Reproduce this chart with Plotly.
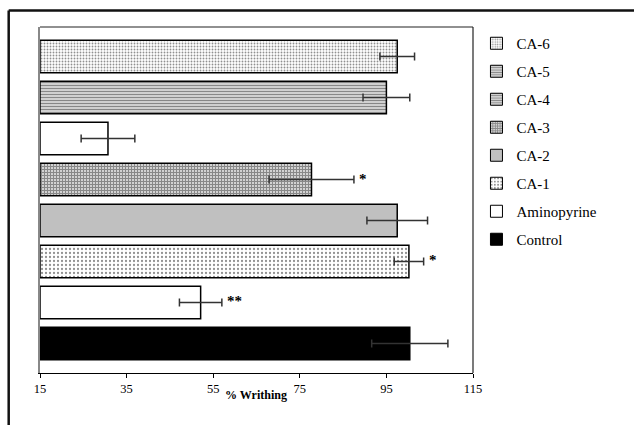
import plotly.graph_objects as go

# Data (bottom to top)
categories = ["Control", "Aminopyrine", "CA-1", "CA-2", "CA-3", "CA-4", "CA-5", "CA-6"]
values = [100.4, 52.1, 100.2, 97.5, 77.7, 30.7, 95.0, 97.5]
errors = [8.8, 4.9, 3.4, 7.0, 9.8, 6.2, 5.4, 4.0]
stars = ["", "**", "*", "", "*", "", "", ""]
x_ticks = [15, 35, 55, 75, 95, 115]
x_min, x_max = 15, 115

SERIF = "Liberation Serif, Times New Roman, serif"

# Styles for bars (bottom to top)
bar_styles = {
    "Control": dict(color="black", pattern=dict(shape="")),
    "Aminopyrine": dict(color="white", pattern=dict(shape="")),
    "CA-1": dict(color="white", pattern=dict(shape=".", size=4, solidity=0.25, fgcolor="#222")),
    "CA-2": dict(color="#c0c0c0", pattern=dict(shape="")),
    "CA-3": dict(color="white", pattern=dict(shape="+", size=3, solidity=0.7, fgcolor="#111")),
    "CA-4": dict(color="white", pattern=dict(shape="")),
    "CA-5": dict(color="white", pattern=dict(shape="-", size=3, solidity=0.6, fgcolor="#111")),
    "CA-6": dict(color="white", pattern=dict(shape=".", size=3, solidity=0.3, fgcolor="#222")),
}
legend_styles = dict(bar_styles)
legend_styles["CA-4"] = dict(color="white", pattern=dict(shape="-", size=3, solidity=0.6, fgcolor="#111"))

fig = go.Figure()
for i, (cat, v, e) in enumerate(zip(categories, values, errors)):
    st = bar_styles[cat]
    fig.add_trace(go.Bar(
        x=[v - x_min], y=[i], base=[x_min], orientation="h", width=0.795,
        marker=dict(color=st["color"], pattern=st["pattern"], line=dict(color="black", width=1.5)),
        error_x=dict(type="data", array=[e], color="#333", thickness=1.5, width=4),
        showlegend=False, hoverinfo="skip",
    ))

# legend entries (top to bottom)
for cat in categories[::-1]:
    st = legend_styles[cat]
    fig.add_trace(go.Bar(
        x=[None], y=[None], orientation="h", name=cat, legendgroup=cat,
        marker=dict(color=st["color"], pattern=st["pattern"], line=dict(color="black", width=1)),
    ))

for i, (v, e, s) in enumerate(zip(values, errors, stars)):
    if s:
        fig.add_annotation(x=v + e, y=i, text="<b>" + s + "</b>", showarrow=False,
                           xanchor="left", yanchor="middle", xshift=3, yshift=1,
                           font=dict(size=15, color="black", family=SERIF))

fig.add_annotation(x=0.4215, y=-0.063, xref="paper", yref="paper", text="<b>% Writhing</b>",
                   showarrow=False, xanchor="left", yanchor="middle",
                   font=dict(size=12, color="black", family=SERIF))

# outer border (top and left)
fig.add_shape(type="line", xref="paper", yref="paper", x0=-0.0723, x1=1.5, y0=1.048, y1=1.048,
              line=dict(color="#111", width=2.5))
fig.add_shape(type="line", xref="paper", yref="paper", x0=-0.0723, x1=-0.0723, y0=1.048, y1=-0.3,
              line=dict(color="#111", width=2.5))
# right and top frame
fig.add_shape(type="line", xref="paper", yref="paper", x0=1, x1=1, y0=0, y1=1,
              line=dict(color="#222", width=1.2))
fig.add_shape(type="line", xref="paper", yref="paper", x0=0, x1=1, y0=1, y1=1,
              line=dict(color="#222", width=1.2))

fig.update_layout(
    width=634, height=425,
    margin=dict(l=40, r=161, t=27, b=52),
    paper_bgcolor="white", plot_bgcolor="white",
    barmode="overlay",
    font=dict(family=SERIF, color="black"),
    xaxis=dict(range=[x_min, x_max], tickvals=x_ticks, ticks="outside", ticklen=4,
               tickcolor="black", showline=True, linecolor="black", linewidth=1.2,
               showgrid=False, zeroline=False, tickfont=dict(size=12.5, family=SERIF)),
    yaxis=dict(range=[-0.72, 7.72], showticklabels=False, ticks="", showgrid=False,
               zeroline=False, showline=True, linecolor="#888", linewidth=2),
    legend=dict(x=1.008, y=1.0, xanchor="left", yanchor="top", traceorder="grouped",
                tracegroupgap=5.5, font=dict(size=15, family=SERIF),
                bgcolor="rgba(0,0,0,0)", itemclick=False),
    showlegend=True,
)

fig.write_html("out.html")
